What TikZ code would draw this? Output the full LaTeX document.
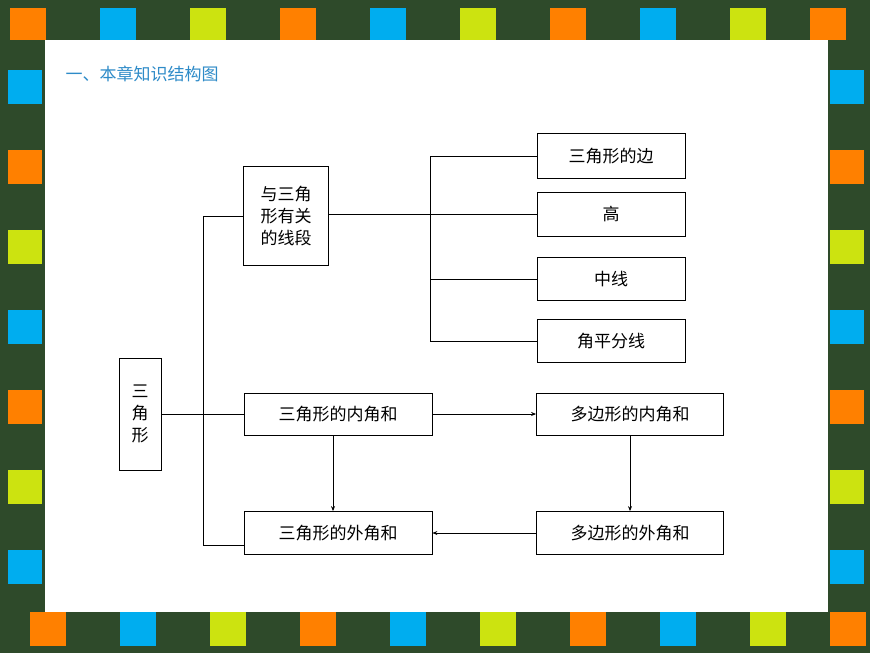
\documentclass[tikz,border=0pt]{standalone}
\usepackage{fontspec}
\newfontfamily\cjk{Noto Sans CJK SC}
\usetikzlibrary{arrows.meta}
\definecolor{bord}{HTML}{2E4A2A}
\definecolor{ttl}{HTML}{2E8BC8}
\begin{document}
\begin{tikzpicture}[x=1pt,y=-1pt,
 bx/.style={draw=black,line width=0.8pt,fill=white,font=\cjk\fontsize{17}{22}\selectfont,inner sep=0pt},
 ln/.style={line width=0.7pt},
 ar/.style={line width=0.7pt,-{Stealth[length=5pt,width=4pt]}}]
\useasboundingbox (0,0) rectangle (870,653);
\fill[bord] (0,0) rectangle (870,653);
\foreach \x/\c in {10/orange,100/cyan,190/yellow!80!green,280/orange,370/cyan,460/yellow!80!green,550/orange,640/cyan,730/yellow!80!green,810/orange}{
 \fill[\c] (\x,8) rectangle ++(36,32);
 \fill[\c] (\x+20,612) rectangle ++(36,34);}
\foreach \y/\c in {70/cyan,150/orange,230/yellow!80!green,310/cyan,390/orange,470/yellow!80!green,550/cyan}{
 \fill[\c] (8,\y) rectangle ++(34,34);
 \fill[\c] (830,\y) rectangle ++(34,34);}
\fill[white] (45,40) rectangle (828,612);
\node[anchor=west,text=ttl,font=\cjk\fontsize{17}{20}\selectfont] (title) at (62,74) {一、本章知识结构图};
\node[bx,minimum width=42pt,minimum height=112pt,align=center] (tri) at (140,414) {三\\角\\形};
\node[bx,minimum width=85pt,minimum height=99pt,align=center] (seg) at (286,216) {与三角\\形有关\\的线段};
\node[bx,minimum width=148pt,minimum height=45pt] (bian) at (611,156) {三角形的边};
\node[bx,minimum width=148pt,minimum height=44pt] (gao) at (611,214) {高};
\node[bx,minimum width=148pt,minimum height=43pt] (zx) at (611,279) {中线};
\node[bx,minimum width=148pt,minimum height=43pt] (jp) at (611,341) {角平分线};
\node[bx,minimum width=188pt,minimum height=42pt] (tn) at (338,414) {三角形的内角和};
\node[bx,minimum width=187pt,minimum height=42pt] (pn) at (630,414) {多边形的内角和};
\node[bx,minimum width=188pt,minimum height=43pt] (tw) at (338,533) {三角形的外角和};
\node[bx,minimum width=187pt,minimum height=43pt] (pw) at (630,533) {多边形的外角和};
\coordinate (v1t) at (203,216);
\coordinate (v1b) at (203,545);
\coordinate (v2t) at (430,156);
\coordinate (v2b) at (430,341);
\draw[ln] (tri.east) -- (tn.west);
\draw[ln] (seg.west) -- (v1t) -- (v1b) -- (tw.west |- v1b);
\draw[ln] (seg.east |- gao.west) -- (gao.west);
\draw[ln] (v2t) -- (v2b);
\draw[ln] (v2t) -- (bian.west);
\draw[ln] (zx.west) -- (zx.west -| v2t);
\draw[ln] (v2b) -- (jp.west);
\draw[ar] (tn.east) -- (pn.west);
\draw[ar] ([xshift=-5pt]tn.south) -- ([xshift=-5pt]tw.north);
\draw[ar] (pn.south) -- (pn.south |- tw.north);
\draw[ar] (pw.west) -- (tw.east);
\end{tikzpicture}
\end{document}
